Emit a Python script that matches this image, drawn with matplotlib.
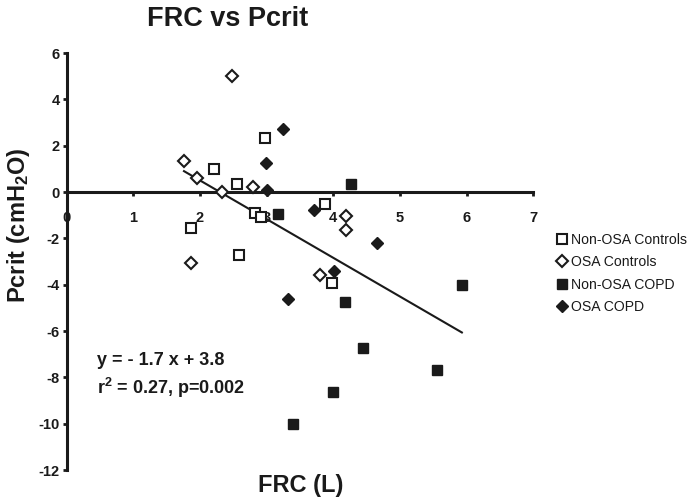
import numpy as np
import matplotlib
matplotlib.use('Agg')
import matplotlib.pyplot as plt

plt.rcParams['font.family'] = ['Liberation Sans', 'DejaVu Sans']
plt.rcParams['mathtext.default'] = 'regular'
plt.rcParams['axes.unicode_minus'] = False

# values
non_osa_controls_x = [2.21, 2.56, 2.98, 2.82, 2.92, 1.86, 3.88, 2.59, 3.98]
non_osa_controls_y = [0.99, 0.34, 2.31, -0.91, -1.10, -1.54, -0.53, -2.73, -3.92]

osa_controls_x = [2.48, 1.76, 1.96, 2.33, 2.80, 4.19, 4.19, 3.80, 1.87]
osa_controls_y = [5.00, 1.35, 0.62, 0.00, 0.22, -1.02, -1.64, -3.58, -3.07]

non_osa_copd_x = [3.17, 4.26, 4.17, 5.93, 4.45, 5.55, 4.00, 3.39]
non_osa_copd_y = [-0.93, 0.36, -4.76, -4.02, -6.74, -7.67, -8.65, -10.00]

osa_copd_x = [3.24, 2.99, 3.01, 3.71, 4.66, 4.01, 3.32]
osa_copd_y = [2.70, 1.26, 0.09, -0.76, -2.21, -3.41, -4.60]

fit_x = [1.76, 5.93]
fit_slope = -1.67
fit_intercept = 3.84

x_ticks = [0, 1, 2, 3, 4, 5, 6, 7]
y_ticks = [-12, -10, -8, -6, -4, -2, 0, 2, 4, 6]


def main():
    fig = plt.figure(figsize=(6.9, 5.03), dpi=100)
    ax = fig.add_axes([0.0967, 0.0656, 0.676, 0.829])

    ax.plot(non_osa_controls_x, non_osa_controls_y, 's', ms=7, mfc='white', mec='#1a1a1a',
            mew=1.5, label='Non-OSA Controls', zorder=3)
    ax.plot(osa_controls_x, osa_controls_y, 'D', ms=6.3, mfc='white', mec='#1a1a1a',
            mew=1.5, label='OSA Controls', zorder=3)
    ax.plot(non_osa_copd_x, non_osa_copd_y, 's', ms=7.5, color='#1a1a1a',
            label='Non-OSA COPD', zorder=3)
    ax.plot(osa_copd_x, osa_copd_y, 'D', ms=6.5, color='#1a1a1a',
            label='OSA COPD', zorder=3)

    fx = np.array(fit_x)
    ax.plot(fx, fit_slope * fx + fit_intercept, color='#1a1a1a', lw=1.5, zorder=2)

    ax.set_xlim(0, 7)
    ax.set_ylim(-12, 6)
    ax.spines['left'].set_position(('data', 0))
    ax.spines['bottom'].set_position(('data', 0))
    ax.spines['top'].set_visible(False)
    ax.spines['right'].set_visible(False)
    for side in ['left', 'bottom']:
        ax.spines[side].set_linewidth(2.2)
        ax.spines[side].set_color('#1a1a1a')

    ax.set_xticks(x_ticks)
    ax.set_yticks(y_ticks)
    ax.tick_params(axis='x', direction='out', length=3, width=2, pad=11,
                   labelsize=10.5, colors='#1a1a1a')
    ax.tick_params(axis='y', direction='out', length=3, width=2, pad=2,
                   labelsize=10.5, colors='#1a1a1a')
    for lab in ax.get_xticklabels() + ax.get_yticklabels():
        lab.set_fontweight('bold')

    fig.text(0.33, 0.963, 'FRC vs Pcrit', ha='center', va='center', fontsize=19.5,
             fontweight='bold', color='#1a1a1a')
    fig.text(0.436, 0.035, 'FRC (L)', ha='center', va='center', fontsize=17,
             fontweight='bold', color='#1a1a1a')
    fig.text(0.027, 0.553, 'Pcrit (cmH$_2$O)', ha='center', va='center', fontsize=17,
             fontweight='bold', rotation=90, color='#1a1a1a')

    fig.text(0.14, 0.284, 'y = - 1.7 x + 3.8', ha='left', va='center', fontsize=13,
             fontweight='bold', color='#1a1a1a')
    fig.text(0.14, 0.229, 'r$^2$ = 0.27, p=0.002', ha='left', va='center', fontsize=13,
             fontweight='bold', color='#1a1a1a')

    ax.legend(loc='upper left', bbox_to_anchor=(0.807, 0.537), bbox_transform=fig.transFigure,
              frameon=False, fontsize=10.1, handlelength=0.7, handletextpad=0.28,
              labelspacing=0.6, borderaxespad=0, borderpad=0, labelcolor='#1a1a1a')

    fig.savefig('out.png', dpi=100)


if __name__ == '__main__':
    main()
